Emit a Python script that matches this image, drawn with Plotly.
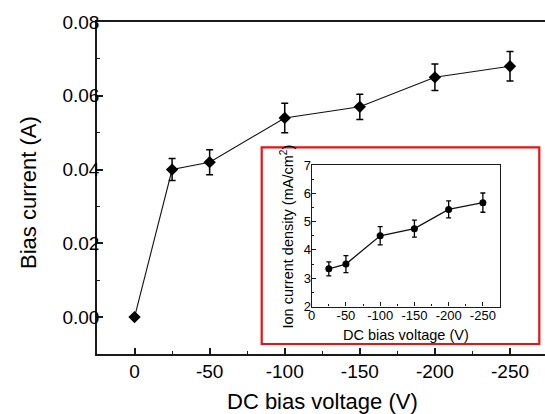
import plotly.graph_objects as go

# ---- data ----
volts = [0, -25, -50, -100, -150, -200, -250]
bias_current = [0.0, 0.040, 0.042, 0.054, 0.057, 0.065, 0.068]
bias_err = [None, 0.003, 0.0034, 0.004, 0.0034, 0.0036, 0.004]

inset_volts = [-25, -50, -100, -150, -200, -250]
ion_density = [3.33, 3.5, 4.5, 4.75, 5.43, 5.67]
ion_err = [0.25, 0.3, 0.32, 0.3, 0.3, 0.34]

main_xticks = [0, -50, -100, -150, -200, -250]
main_yticks = [0.0, 0.02, 0.04, 0.06, 0.08]
inset_xticks = [0, -50, -100, -150, -200, -250]
inset_yticks = [2, 3, 4, 5, 6, 7]

# ---- layout helpers (pixel -> paper) ----
W, H = 545, 414
L, T, B, R = 97, 22, 60, 0
PW = W - L - R
PH = H - T - B


def fx(px):
    return (px - L) / PW


def fy(py):
    return (H - B - py) / PH


FONT = "Liberation Sans, Arial, sans-serif"
AX = "#1a1a1a"

fig = go.Figure()

fig.add_trace(go.Scatter(
    x=volts, y=bias_current, mode="lines+markers",
    line=dict(color="#111", width=1.1),
    marker=dict(symbol="diamond", size=9.5, color="black"),
    error_y=dict(type="data", array=bias_err, visible=True,
                 color="black", thickness=1.5, width=3.5),
    xaxis="x", yaxis="y", showlegend=False,
))

fig.add_trace(go.Scatter(
    x=inset_volts, y=ion_density, mode="lines+markers",
    line=dict(color="#111", width=1.3),
    marker=dict(symbol="circle", size=7, color="black"),
    error_y=dict(type="data", array=ion_err, visible=True,
                 color="black", thickness=1.3, width=2.5),
    xaxis="x2", yaxis="y2", showlegend=False,
))

fig.update_layout(
    width=W, height=H,
    margin=dict(l=L, r=R, t=T, b=B),
    paper_bgcolor="white", plot_bgcolor="white",
    font=dict(family=FONT, color="black"),
    xaxis=dict(
        domain=[0, 1], range=[25, -273.3],
        tickvals=main_xticks, ticktext=[str(v) for v in main_xticks],
        ticks="inside", ticklen=6, tickwidth=1.5, tickcolor=AX,
        minor=dict(dtick=25, tick0=0, ticks="inside", ticklen=3, tickwidth=1.2, tickcolor=AX),
        showline=True, linecolor=AX, linewidth=1.6, mirror=True,
        showgrid=False, zeroline=False, ticklabelstandoff=-1,
        tickfont=dict(size=19, family=FONT, color="black"),
    ),
    yaxis=dict(
        domain=[0, 1], range=[-0.01, 0.08],
        tickvals=main_yticks, ticktext=[f"{v:.2f}" for v in main_yticks],
        ticks="inside", ticklen=6, tickwidth=1.5, tickcolor=AX,
        minor=dict(dtick=0.01, tick0=0, ticks="inside", ticklen=3, tickwidth=1.2, tickcolor=AX),
        showline=True, linecolor=AX, linewidth=1.6, mirror=False,
        showgrid=False, zeroline=False, ticklabelstandoff=-8,
        tickfont=dict(size=19, family=FONT, color="black"),
    ),
    xaxis2=dict(
        domain=[fx(311.7), fx(500)], anchor="y2", range=[0, -275],
        tickvals=inset_xticks, ticktext=[str(v) for v in inset_xticks],
        ticks="inside", ticklen=4, tickwidth=1.2, tickcolor=AX,
        minor=dict(dtick=25, tick0=0, ticks="inside", ticklen=2, tickwidth=1, tickcolor=AX),
        showline=True, linecolor=AX, linewidth=1.2, mirror=True,
        showgrid=False, zeroline=False, ticklabelstandoff=-3,
        tickfont=dict(size=13, family=FONT, color="black"),
    ),
    yaxis2=dict(
        domain=[fy(306.5), fy(165)], anchor="x2", range=[2, 7],
        tickvals=inset_yticks, ticktext=[str(v) for v in inset_yticks],
        ticks="inside", ticklen=4, tickwidth=1.2, tickcolor=AX,
        minor=dict(dtick=0.5, tick0=0, ticks="inside", ticklen=2, tickwidth=1, tickcolor=AX),
        showline=True, linecolor=AX, linewidth=1.2, mirror=True,
        showgrid=False, zeroline=False, ticklabelstandoff=-3,
        tickfont=dict(size=13, family=FONT, color="black"),
    ),
    shapes=[dict(
        type="rect", xref="paper", yref="paper",
        x0=fx(261.7), x1=fx(539.3), y0=fy(344), y1=fy(147.3),
        line=dict(color="#ee1111", width=2.2),
    )],
    annotations=[
        dict(text="DC bias voltage (V)", xref="paper", yref="paper",
             x=fx(322.4), y=fy(401), xanchor="center", yanchor="middle",
             showarrow=False, font=dict(size=22, family=FONT, color="black")),
        dict(text="Bias current (A)", xref="paper", yref="paper",
             x=fx(28), y=fy(193), xanchor="center", yanchor="middle",
             textangle=-90, showarrow=False,
             font=dict(size=22, family=FONT, color="black")),
        dict(text="DC bias voltage (V)", xref="paper", yref="paper",
             x=fx(405.8), y=fy(334.5), xanchor="center", yanchor="middle",
             showarrow=False, font=dict(size=14.5, family=FONT, color="black")),
        dict(text="Ion current density (mA/cm<sup>2</sup>)", xref="paper", yref="paper",
             x=fx(286.8), y=fy(236.7), xanchor="center", yanchor="middle",
             textangle=-90, showarrow=False,
             font=dict(size=14.5, family=FONT, color="black")),
    ],
)

fig.write_html(
    "out.html",
    config={"displayModeBar": False},
    post_script="document.body.style.margin='0';document.body.style.overflow='hidden';",
)
